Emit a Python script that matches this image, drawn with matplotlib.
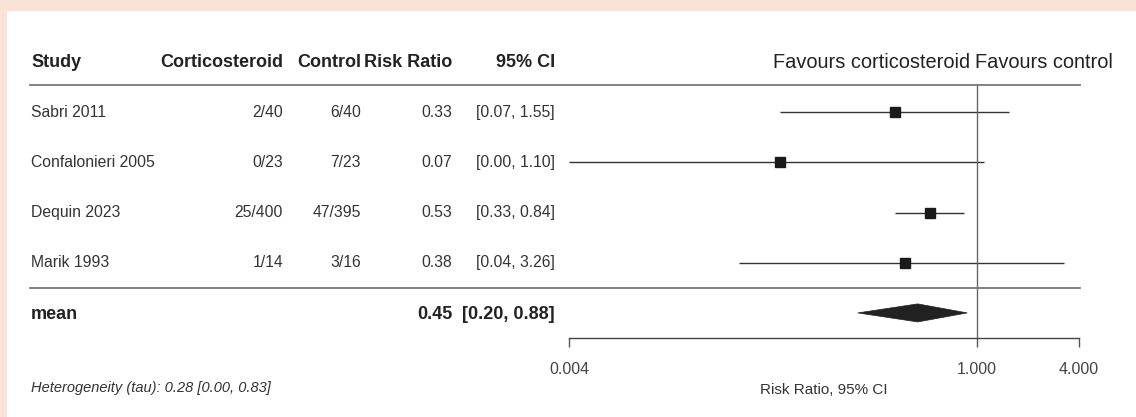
import numpy as np
import matplotlib
matplotlib.use("Agg")
import matplotlib.pyplot as plt
from matplotlib.patches import Polygon, Rectangle
from matplotlib.ticker import NullLocator
from matplotlib.transforms import blended_transform_factory

plt.rcParams['font.family'] = ['Liberation Sans', 'DejaVu Sans']

# study level data
studies = ['Sabri 2011', 'Confalonieri 2005', 'Dequin 2023', 'Marik 1993']
events_steroid = ['2/40', '0/23', '25/400', '1/14']
events_control = ['6/40', '7/23', '47/395', '3/16']
rr = [0.33, 0.07, 0.53, 0.38]
ci_lo = [0.07, 0.00, 0.33, 0.04]
ci_hi = [1.55, 1.10, 0.84, 3.26]

# pooled estimate
mean_rr = 0.45
mean_lo = 0.20
mean_hi = 0.88
tau = [0.28, 0.00, 0.83]

xticks = [0.004, 1.0, 4.0]
xlim = (0.004, 4.0)

W, H = 1136, 417
TXT = '#333333'
HEAD = '#222222'


def px(x):
    return x / W


fig = plt.figure(figsize=(W / 100, H / 100), dpi=100, facecolor='#f9e3d9')
fig.add_artist(Rectangle((px(7), 0), 1, (H - 11) / H, transform=fig.transFigure,
                         facecolor='white', edgecolor='none', zorder=0))

ax = fig.add_axes([px(569), 1 - 338 / H, px(510), (338 - 37) / H])
ax.patch.set_alpha(0)
ax.set_xscale('log')
ax.set_xlim(*xlim)
ax.set_ylim(4.5, -1.5)
for s in ['top', 'left', 'right']:
    ax.spines[s].set_visible(False)
ax.spines['bottom'].set_color('#444444')
ax.spines['bottom'].set_linewidth(1)
ax.set_yticks([])
ax.set_xticks(xticks)
ax.set_xticklabels(['%.3f' % t for t in xticks])
ax.xaxis.set_minor_locator(NullLocator())
ax.tick_params(axis='x', direction='out', length=6.5, width=1, color='#555555',
               pad=11, labelsize=11.5, labelcolor='#444444')
ax.set_xlabel('Risk Ratio, 95% CI', fontsize=11, color=TXT, labelpad=4)

rows = np.arange(len(studies))

# confidence intervals and point estimates
lo = np.clip(ci_lo, *xlim)
hi = np.clip(ci_hi, *xlim)
ax.hlines(rows, lo, hi, color='#333333', lw=1)
ax.plot(rr, rows, 's', ms=6.5, color='#1a1a1a', zorder=3)

# pooled diamond
dh = 0.18
ax.add_patch(Polygon([[mean_lo, 4], [mean_rr, 4 - dh], [mean_hi, 4], [mean_rr, 4 + dh]],
                     closed=True, facecolor='#222222', edgecolor='#222222', lw=0.5))

# line of no effect
ax.vlines(1.0, -0.55, 4.5, color='#666666', lw=1)

# header / footer rules
x0 = (30 - 569) / 510
x1 = (1080 - 569) / 510
ax.axhline(-0.55, xmin=x0, xmax=x1, clip_on=False, color='#777777', lw=1.3)
ax.axhline(3.5, xmin=x0, xmax=x1, clip_on=False, color='#777777', lw=1.3)

ax.annotate('Favours corticosteroid', (1.0, -1), xytext=(-5, 0), textcoords='offset points',
            ha='right', va='center', fontsize=14.4, color=HEAD)
ax.annotate('Favours control', (1.0, -1), xytext=(-1, 0), textcoords='offset points',
            ha='left', va='center', fontsize=14.4, color=HEAD)

# table columns
tr = blended_transform_factory(fig.transFigure, ax.transData)
cols = [(31, 'left', 'Study'), (283, 'right', 'Corticosteroid'), (361, 'right', 'Control'),
        (452, 'right', 'Risk Ratio'), (555, 'right', '95% CI')]
for x, ha, name in cols:
    ax.text(px(x), -1, name, transform=tr, ha=ha, va='center', fontsize=13,
            fontweight='bold', color=HEAD)

for i in rows:
    vals = [studies[i], events_steroid[i], events_control[i], '%.2f' % rr[i],
            '[%.2f, %.2f]' % (ci_lo[i], ci_hi[i])]
    for (x, ha, _), v in zip(cols, vals):
        ax.text(px(x), i, v, transform=tr, ha=ha, va='center', fontsize=11.3, color=TXT)

ax.text(px(31), 4.03, 'mean', transform=tr, ha='left', va='center', fontsize=13,
        fontweight='bold', color=HEAD)
ax.text(px(452), 4.03, '%.2f' % mean_rr, transform=tr, ha='right', va='center', fontsize=13,
        fontweight='bold', color=HEAD)
ax.text(px(555), 4.03, '[%.2f, %.2f]' % (mean_lo, mean_hi), transform=tr, ha='right',
        va='center', fontsize=13, fontweight='bold', color=HEAD)

fig.text(px(31), 1 - 388 / H, 'Heterogeneity (tau): %.2f [%.2f, %.2f]' % tuple(tau),
         ha='left', va='center', fontsize=10.5, style='italic', color=TXT)

fig.savefig('out.png', dpi=100, facecolor=fig.get_facecolor())
